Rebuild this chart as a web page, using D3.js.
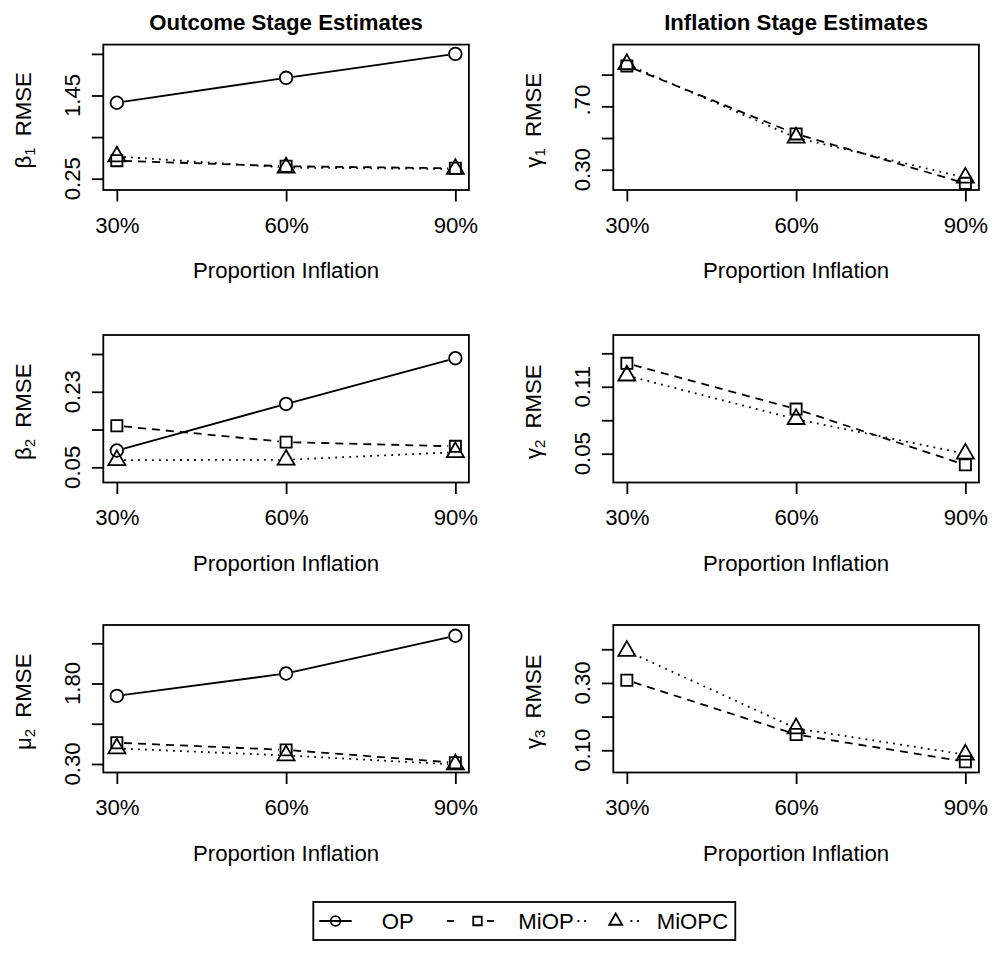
<!DOCTYPE html>
<html>
<head>
  <meta charset="utf-8" />
  <title>RMSE by Proportion Inflation</title>
  <script src="https://cdn.jsdelivr.net/npm/d3@7"></script>
  <style>
    body { margin: 0; background: white; }
    svg { display: block; }
    text { font-family: "Liberation Sans", Arial, Helvetica, sans-serif; fill: #000; }
  </style>
</head>
<body>
  <div id="chart"></div>
  <script>
    // x categories
    var xValues = [30, 60, 90];
    var xLabels = ["30%", "60%", "90%"];
    var seriesNames = ["OP", "MiOP", "MiOPC"];

    // RMSE values
    var beta1_OP = [1.345, 1.705, 2.05];
    var beta1_MiOP = [0.51, 0.43, 0.40];
    var beta1_MiOPC = [0.57, 0.41, 0.39];

    var beta2_OP = [0.090, 0.201, 0.310];
    var beta2_MiOP = [0.149, 0.110, 0.100];
    var beta2_MiOPC = [0.067, 0.068, 0.086];

    var mu2_OP = [1.569, 1.987, 2.69];
    var mu2_MiOP = [0.697, 0.563, 0.324];
    var mu2_MiOPC = [0.59, 0.46, 0.29];

    var gamma1_MiOP = [0.955, 0.526, 0.214];
    var gamma1_MiOPC = [0.966, 0.502, 0.25];

    var gamma2_MiOP = [0.131, 0.090, 0.040];
    var gamma2_MiOPC = [0.120, 0.081, 0.050];

    var gamma3_MiOP = [0.308, 0.147, 0.066];
    var gamma3_MiOPC = [0.395, 0.165, 0.087];

    // y axes: limits, ticks, tick labels
    var beta1_lim = [0.087, 2.184], beta1_ticks = [0.25, 0.85, 1.45, 2.05], beta1_tickLabels = ["0.25", "", "1.45", ""];
    var beta2_lim = [0.0138, 0.3653], beta2_ticks = [0.05, 0.14, 0.23, 0.32], beta2_tickLabels = ["0.05", "", "0.23", ""];
    var mu2_lim = [0.1415, 2.891], mu2_ticks = [0.30, 1.05, 1.80, 2.55], mu2_tickLabels = ["0.30", "", "1.80", ""];
    var gamma1_lim = [0.172, 1.0895], gamma1_ticks = [0.30, 0.50, 0.70, 0.90], gamma1_tickLabels = ["0.30", "", ".70", ""];
    var gamma2_lim = [0.0242, 0.1564], gamma2_ticks = [0.05, 0.08, 0.11, 0.14], gamma2_tickLabels = ["0.05", "", "0.11", ""];
    var gamma3_lim = [0.034, 0.472], gamma3_ticks = [0.10, 0.20, 0.30, 0.40], gamma3_tickLabels = ["0.10", "", "0.30", ""];

    var columnTitles = ["Outcome Stage Estimates", "Inflation Stage Estimates"];

    var panels = [
      { col: 0, row: 0, sym: "β", sub: "1", lim: beta1_lim, ticks: beta1_ticks, labels: beta1_tickLabels,
        series: { OP: beta1_OP, MiOP: beta1_MiOP, MiOPC: beta1_MiOPC } },
      { col: 1, row: 0, sym: "γ", sub: "1", lim: gamma1_lim, ticks: gamma1_ticks, labels: gamma1_tickLabels,
        series: { MiOP: gamma1_MiOP, MiOPC: gamma1_MiOPC } },
      { col: 0, row: 1, sym: "β", sub: "2", lim: beta2_lim, ticks: beta2_ticks, labels: beta2_tickLabels,
        series: { OP: beta2_OP, MiOP: beta2_MiOP, MiOPC: beta2_MiOPC } },
      { col: 1, row: 1, sym: "γ", sub: "2", lim: gamma2_lim, ticks: gamma2_ticks, labels: gamma2_tickLabels,
        series: { MiOP: gamma2_MiOP, MiOPC: gamma2_MiOPC } },
      { col: 0, row: 2, sym: "μ", sub: "2", lim: mu2_lim, ticks: mu2_ticks, labels: mu2_tickLabels,
        series: { OP: mu2_OP, MiOP: mu2_MiOP, MiOPC: mu2_MiOPC } },
      { col: 1, row: 2, sym: "γ", sub: "3", lim: gamma3_lim, ticks: gamma3_ticks, labels: gamma3_tickLabels,
        series: { MiOP: gamma3_MiOP, MiOPC: gamma3_MiOPC } }
    ];

    // styling
    var W = 992, H = 956;
    var fontSize = 22.2;
    var lw = 1.8;
    var colLeft = [103.3, 613.3], boxW = 365.6;
    var rowTop = [44.6, 335, 625], rowBottom = [190, 482.5, 772.5];
    var dash = { OP: null, MiOP: "8,6", MiOPC: "1.8,5.2" };
    var ptR = 6.3; // circle radius in plots

    function symbolPath(name, r) {
      if (name === "OP") return d3.symbol(d3.symbolCircle, Math.PI * r * r)();
      if (name === "MiOP") { var s = 2 * 0.886 * r; return d3.symbol(d3.symbolSquare, s * s)(); }
      var R = 1.555 * r, y = R / 2; // equilateral, circumradius R
      return d3.symbol(d3.symbolTriangle, y * y * 3 * Math.sqrt(3))();
    }

    var svg = d3.select("#chart").append("svg").attr("width", W).attr("height", H);

    // column titles
    columnTitles.forEach(function (t, i) {
      svg.append("text")
        .attr("x", colLeft[i] + boxW / 2).attr("y", 30)
        .attr("text-anchor", "middle")
        .style("font-size", fontSize + "px").style("font-weight", "bold")
        .text(t);
    });

    panels.forEach(function (p) {
      var left = colLeft[p.col], right = left + boxW;
      var top = rowTop[p.row], bottom = rowBottom[p.row];
      var x = d3.scaleLinear().domain([27.6, 92.4]).range([left, right]);
      var y = d3.scaleLinear().domain(p.lim).range([bottom, top]);
      var g = svg.append("g");

      // series: lines with gaps round the points (type "b"), then points
      seriesNames.forEach(function (name) {
        var vals = p.series[name];
        if (!vals) return;
        var pts = vals.map(function (v, i) { return [x(xValues[i]), y(v)]; });
        var gap = 7.2;
        for (var i = 0; i < pts.length - 1; i++) {
          var a = pts[i], b = pts[i + 1];
          var dx = b[0] - a[0], dy = b[1] - a[1], len = Math.sqrt(dx * dx + dy * dy);
          if (len <= 2 * gap) continue;
          var ux = dx / len, uy = dy / len;
          g.append("line")
            .attr("x1", a[0] + ux * gap).attr("y1", a[1] + uy * gap)
            .attr("x2", b[0] - ux * gap).attr("y2", b[1] - uy * gap)
            .attr("stroke", "#000").attr("stroke-width", lw)
            .attr("stroke-dasharray", dash[name]);
        }
        g.selectAll(null).data(pts).enter().append("path")
          .attr("d", symbolPath(name, ptR))
          .attr("transform", function (d) { return "translate(" + d[0] + "," + d[1] + ")"; })
          .attr("fill", "none").attr("stroke", "#000").attr("stroke-width", lw);
      });

      // box
      g.append("rect").attr("x", left).attr("y", top)
        .attr("width", boxW).attr("height", bottom - top)
        .attr("fill", "none").attr("stroke", "#000").attr("stroke-width", lw);

      // x axis
      var xa = g.append("g").attr("transform", "translate(0," + bottom + ")")
        .call(d3.axisBottom(x).tickValues(xValues).tickSize(11.5)
          .tickFormat(function (d, i) { return xLabels[i]; }));
      xa.select(".domain").remove();
      xa.selectAll("line").attr("stroke-width", lw);
      xa.selectAll("text").attr("dy", null).attr("y", 42.8)
        .style("font-size", fontSize + "px").style("font-family", null);

      g.append("text")
        .attr("x", (left + right) / 2).attr("y", bottom + 88)
        .attr("text-anchor", "middle").style("font-size", fontSize + "px")
        .text("Proportion Inflation");

      // y axis
      var ya = g.append("g").attr("transform", "translate(" + left + ",0)")
        .call(d3.axisLeft(y).tickValues(p.ticks).tickSize(11.5).tickFormat(""));
      ya.select(".domain").remove();
      ya.selectAll("line").attr("stroke-width", lw);

      p.ticks.forEach(function (t, i) {
        var lab = p.labels[i];
        if (!lab) return;
        // a label with a dropped leading zero keeps the place of the full one
        var shift = lab.charAt(0) === "." ? -0.278 * fontSize : 0;
        g.append("text")
          .attr("transform", "translate(" + (left - 23.3) + "," + (y(t) + shift) + ") rotate(-90)")
          .attr("text-anchor", "middle").style("font-size", fontSize + "px")
          .text(lab);
      });

      var yl = g.append("text")
        .attr("transform", "translate(" + (left - 72) + "," + ((top + bottom) / 2 + 3) + ") rotate(-90)")
        .attr("text-anchor", "middle").style("font-size", fontSize + "px");
      yl.append("tspan").text(p.sym);
      yl.append("tspan").attr("dy", 4).style("font-size", "15px").text(p.sub);
      yl.append("tspan").attr("dy", -4).attr("dx", 5).text(" RMSE");
    });

    // legend
    var lg = svg.append("g");
    lg.append("rect").attr("x", 313.3).attr("y", 902).attr("width", 422).attr("height", 38)
      .attr("fill", "none").attr("stroke", "#000").attr("stroke-width", lw);
    var legendItems = [
      { name: "OP", segs: [[319.3, 351.7]], px: 335.5, tx: 381.7, dash: null },
      { name: "MiOP", segs: [[447, 454], [487, 494]], px: 477.5, tx: 518.3, dash: null },
      { name: "MiOPC", segs: [[577.5, 588], [630.5, 641]], px: 615.7, tx: 656.7, dash: "1.8,4.9" }
    ];
    var ly = 921;
    legendItems.forEach(function (it) {
      it.segs.forEach(function (s) {
        lg.append("line").attr("x1", s[0]).attr("x2", s[1]).attr("y1", ly).attr("y2", ly)
          .attr("stroke", "#000").attr("stroke-width", lw).attr("stroke-dasharray", it.dash);
      });
      lg.append("path").attr("d", symbolPath(it.name, 4.8))
        .attr("transform", "translate(" + it.px + "," + ly + ")")
        .attr("fill", "none").attr("stroke", "#000").attr("stroke-width", lw);
      lg.append("text").attr("x", it.tx).attr("y", ly + 7.9)
        .style("font-size", fontSize + "px").text(it.name);
    });
  </script>
</body>
</html>
